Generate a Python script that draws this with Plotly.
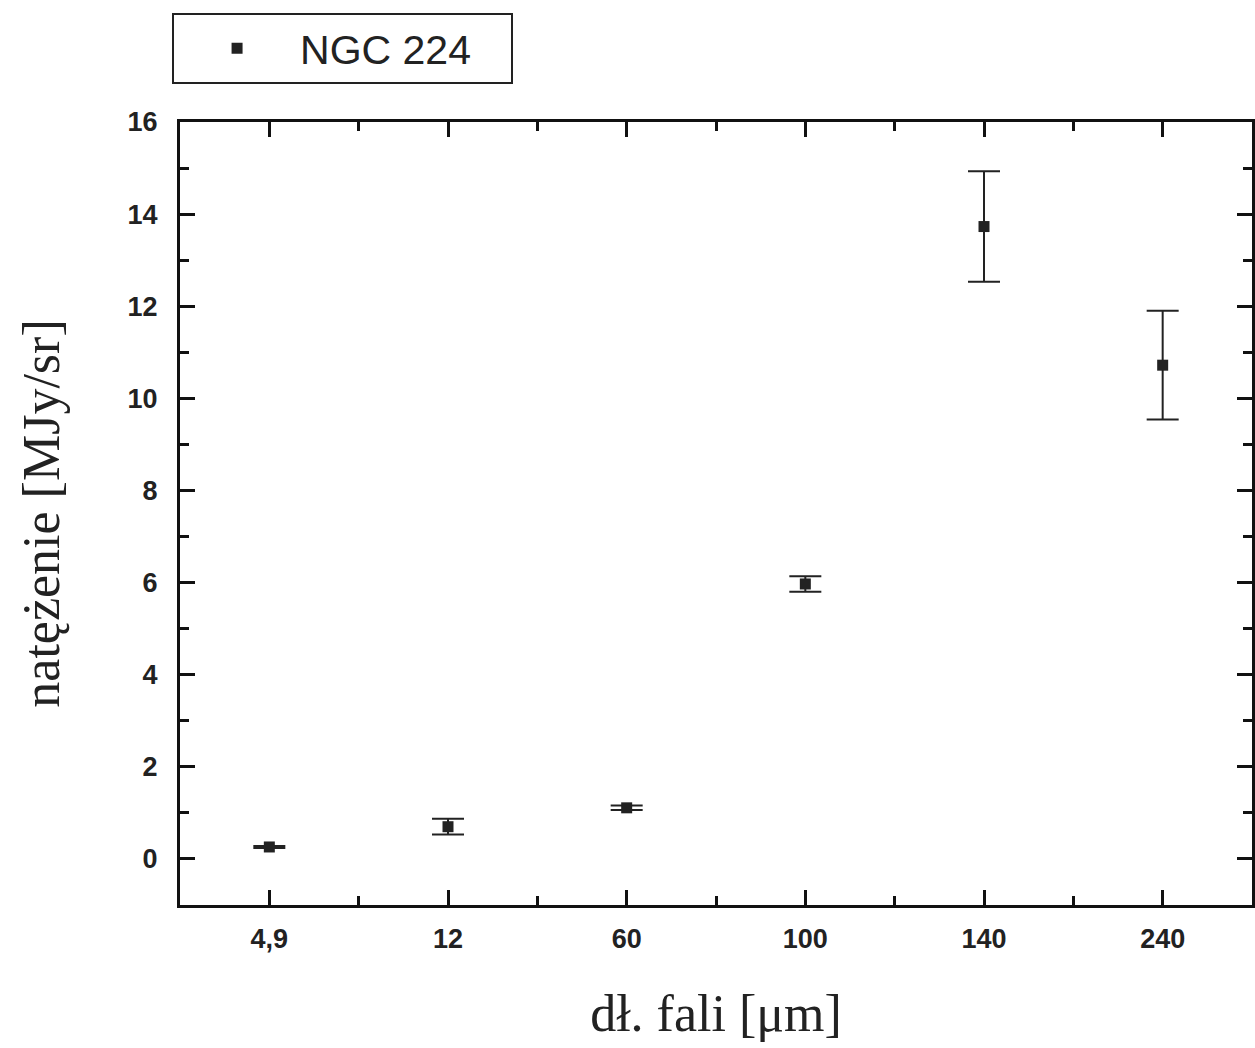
import plotly.graph_objects as go
import numpy as np

categories = ["4,9", "12", "60", "100", "140", "240"]
values = [0.26, 0.70, 1.11, 5.97, 13.73, 10.72]
errors = [0.02, 0.17, 0.05, 0.17, 1.20, 1.18]
y_ticks = [0, 2, 4, 6, 8, 10, 12, 14, 16]

xpos = np.arange(len(categories))

fig = go.Figure()
fig.add_trace(go.Scatter(
    x=xpos, y=values, mode="markers", name="NGC 224\u00a0\u00a0\u00a0",
    marker=dict(symbol="square", size=11, color="#222222"),
    error_y=dict(type="data", array=errors, visible=True, color="#222222",
                 thickness=2, width=16),
))

axis_common = dict(
    showline=True, linecolor="#111111", linewidth=3, mirror="allticks",
    ticks="inside", tickcolor="#111111", tickwidth=2.5, ticklen=15,
    showgrid=False, zeroline=False,
    tickfont=dict(family="Liberation Sans, Arial", size=27, color="#222222", weight="bold"),
)

fig.update_xaxes(
    **axis_common,
    range=[-0.5, 5.5], tickmode="array", tickvals=xpos, ticktext=categories,
    minor=dict(tickmode="array", tickvals=xpos[:-1] + 0.5, ticks="inside",
               ticklen=9, tickwidth=2.5, tickcolor="#111111"),
    ticklabelstandoff=8,
    title=dict(text="dł. fali [μm]", standoff=42,
               font=dict(family="Liberation Serif, Times New Roman", size=52, color="#222222")),
)
fig.update_yaxes(
    **axis_common,
    range=[-1, 16], tickmode="array", tickvals=y_ticks,
    minor=dict(dtick=1, tick0=1, ticks="inside", ticklen=9, tickwidth=2.5, tickcolor="#111111"),
    ticklabelstandoff=14,
    title=dict(text="natężenie [MJy/sr]", standoff=52,
               font=dict(family="Liberation Serif, Times New Roman", size=52, color="#222222")),
)

fig.update_layout(
    width=1255, height=1048,
    margin=dict(l=180, r=0, t=122, b=143),
    paper_bgcolor="white", plot_bgcolor="white",
    showlegend=True,
    legend=dict(
        x=-0.0074, y=1.139, xanchor="left", yanchor="top",
        bordercolor="#222222", borderwidth=2, bgcolor="white",
        font=dict(family="Liberation Sans, Arial", size=41, color="#222222"),
        itemwidth=116,
    ),
)

fig.write_html("out.html")
